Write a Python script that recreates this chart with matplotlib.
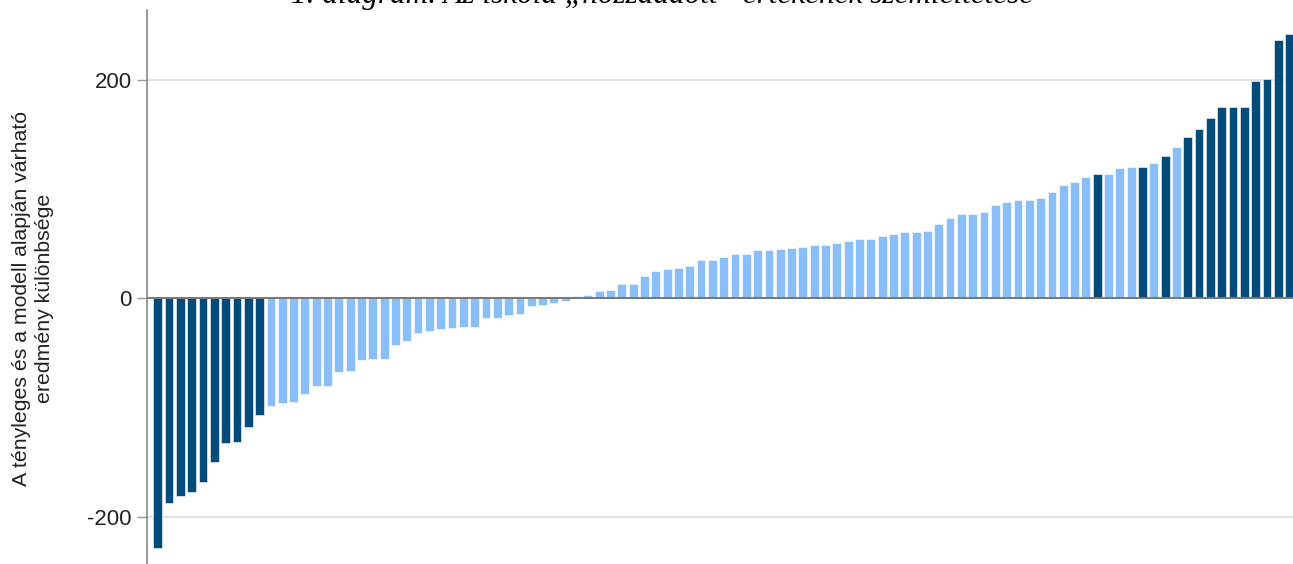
import matplotlib
matplotlib.use("Agg")
import matplotlib.pyplot as plt
import numpy as np

# Difference between actual and model-expected result, sorted ascending
values = [
    -228, -187, -181, -177, -168, -150, -132, -131, -118, -107,
    -98, -96, -95, -87, -80, -80, -67, -66, -56, -55,
    -55, -43, -39, -32, -30, -28, -27, -26, -26, -18,
    -18, -15, -14, -7, -6, -4, -2, 2, 3, 7,
    8, 13, 13, 21, 25, 27, 28, 30, 35, 35,
    38, 41, 41, 44, 44, 45, 46, 47, 49, 49,
    51, 53, 54, 54, 57, 59, 61, 61, 62, 68,
    74, 77, 77, 79, 86, 88, 90, 90, 92, 97,
    104, 107, 111, 114, 114, 119, 120, 120, 124, 130,
    139, 148, 155, 165, 175, 175, 175, 199, 201, 237,
    242,
]
# 1 = significant (dark), 0 = not significant (light)
significant = [1] * 10 + [0] * 73 + [1, 0, 0, 0, 1, 0, 1, 0] + [1] * 10

yticks = [-200, 0, 200]
ytick_labels = ["-200", "0", "200"]
title = "1. diagram. Az iskola „hozzáadott” értékének szemléltetése"
ylabel = "A tényleges és a modell alapján várható\neredmény különbsége"

DARK = "#034b7b"
LIGHT = "#8abef9"

W, H = 1293, 564
fig = plt.figure(figsize=(W / 100, H / 100), dpi=100)
ax = fig.add_axes([147 / W, 0, 1 - 147 / W, 1 - 10 / H])

x = np.arange(len(values))
colors = [DARK if s else LIGHT for s in significant]
ax.bar(x, values, width=0.78, color=colors, edgecolor="white", linewidth=0.4, zorder=3)

ax.set_xlim(-0.95, 100.3)
ax.set_ylim(-243, 264)

ax.set_yticks(yticks)
ax.set_yticklabels(ytick_labels, fontsize=16, family="Liberation Sans", color="#222222")
ax.tick_params(axis="y", length=7, width=1, color="#999999", pad=4)
ax.set_xticks([])

for v in yticks:
    if v == 0:
        ax.axhline(v, color="#777777", linewidth=1.4, zorder=4)
    else:
        ax.axhline(v, color="#dddddd", linewidth=1.2, zorder=1)

for s in ["top", "right", "bottom"]:
    ax.spines[s].set_visible(False)
ax.spines["left"].set_color("#888888")
ax.spines["left"].set_linewidth(1.2)

fig.text(33 / W, 1 - 298 / H, ylabel, rotation=90, ha="center", va="center",
         multialignment="center", fontsize=15.3, family="Liberation Sans", color="#222222",
         linespacing=1.28)

fig.text(662 / W, 1 - 3 / H, title, ha="center", va="baseline", fontsize=22.5,
         family="Liberation Serif", style="italic", color="black")

fig.savefig("out.png", dpi=100)
